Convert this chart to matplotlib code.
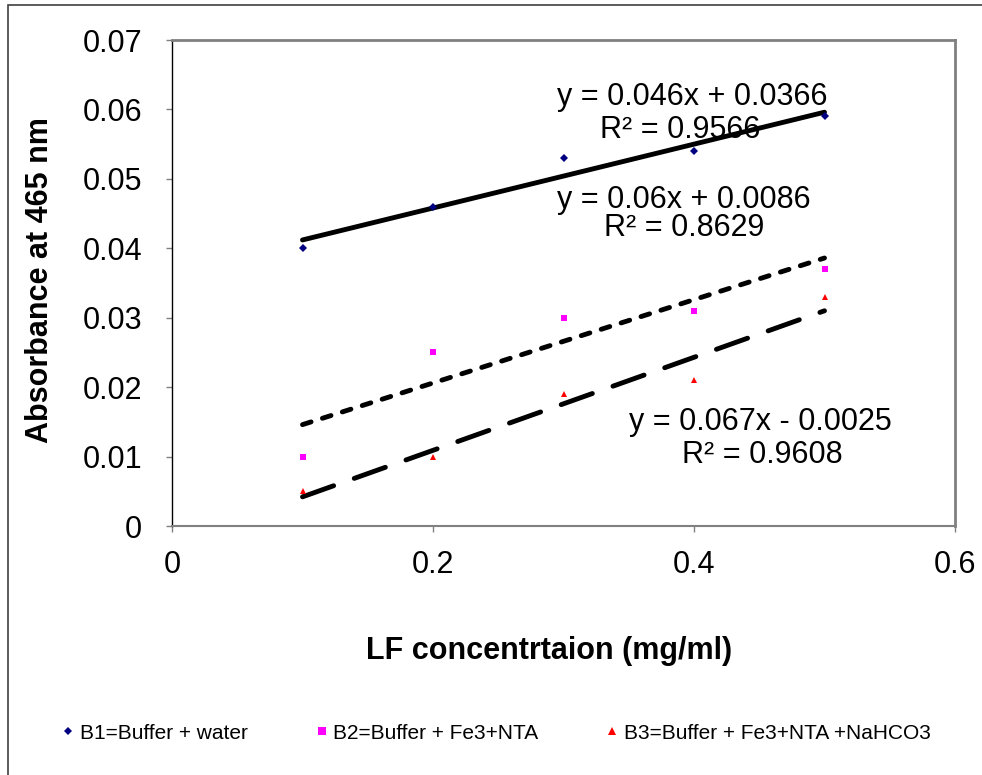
import matplotlib
matplotlib.use('Agg')
import matplotlib.pyplot as plt
import numpy as np
from matplotlib.patches import Rectangle

plt.rcParams['font.family'] = ['Liberation Sans', 'DejaVu Sans']

# data
conc = [0.1, 0.2, 0.3, 0.4, 0.5]
b1 = [0.040, 0.046, 0.053, 0.054, 0.059]
b2 = [0.010, 0.025, 0.030, 0.031, 0.037]
b3 = [0.005, 0.010, 0.019, 0.021, 0.033]
names = ['B1=Buffer + water', 'B2=Buffer + Fe3+NTA', 'B3=Buffer + Fe3+NTA +NaHCO3']
xticks = [0, 0.2, 0.4, 0.6]
xtick_labels = ['0', '0.2', '0.4', '0.6']
yticks = [0, 0.01, 0.02, 0.03, 0.04, 0.05, 0.06, 0.07]
ytick_labels = ['0', '0.01', '0.02', '0.03', '0.04', '0.05', '0.06', '0.07']
eq_lines = [
    ('y = 0.046x + 0.0366', 'R² = 0.9566'),
    ('y = 0.06x + 0.0086', 'R² = 0.8629'),
    ('y = 0.067x - 0.0025', 'R² = 0.9608'),
]

fig = plt.figure(figsize=(9.82, 7.75), dpi=100)
ax = fig.add_axes([172 / 982, 1 - 526 / 775, 783 / 982, 486 / 775])

# outer chart border
fig.patches.append(Rectangle((8 / 982, -0.05), 1.1, 1 - 5 / 775 + 0.05,
                             transform=fig.transFigure, fill=False,
                             edgecolor='#404040', linewidth=1.2))

markers = [('D', '#000080', 4), ('s', '#FF00FF', 5), ('^', '#FF0000', 5)]
dashes = [None, (1.85, 2.45), (6.8, 4.5)]
series = [b1, b2, b3]

x = np.array(conc)
for vals, (m, c, ms), name, d in zip(series, markers, names, dashes):
    ax.plot(conc, vals, linestyle='none', marker=m, color=c, markersize=ms,
            markeredgewidth=0, label=name, zorder=3)
    k, b = np.polyfit(x, vals, 1)
    line, = ax.plot(x, k * x + b, color='black', linewidth=3.5,
                    solid_capstyle='round', dash_capstyle='round', zorder=2)
    if d is not None:
        line.set_dashes(d)

# trendline equations (first and third have offset lines, second is a tight block)
ax.text(0.664, 0.883, eq_lines[0][0], transform=ax.transAxes, fontsize=22,
        ha='center', va='center', zorder=1)
ax.text(0.649, 0.815, eq_lines[0][1], transform=ax.transAxes, fontsize=22,
        ha='center', va='center', zorder=1)
ax.text(0.654, 0.642, '\n'.join(eq_lines[1]), transform=ax.transAxes,
        fontsize=22, ha='center', va='center', multialignment='center',
        linespacing=0.9, zorder=1)
ax.text(0.752, 0.214, eq_lines[2][0], transform=ax.transAxes, fontsize=22,
        ha='center', va='center', zorder=1)
ax.text(0.754, 0.146, eq_lines[2][1], transform=ax.transAxes, fontsize=22,
        ha='center', va='center', zorder=1)

ax.set_xlim(0, 0.6)
ax.set_ylim(0, 0.07)
ax.set_xticks(xticks)
ax.set_xticklabels(xtick_labels)
ax.set_yticks(yticks)
ax.set_yticklabels(ytick_labels)
ax.tick_params(direction='out', length=4.5, width=1, color='#808080',
               labelsize=22)
ax.tick_params(axis='y', pad=17)
ax.tick_params(axis='x', pad=13)

ax.spines['left'].set_color('black')
ax.spines['left'].set_linewidth(1)
ax.spines['bottom'].set_color('#808080')
ax.spines['bottom'].set_linewidth(1.5)
for s in ['top', 'right']:
    ax.spines[s].set_color('#808080')
    ax.spines[s].set_linewidth(2)

ax.set_xlabel('LF concentrtaion (mg/ml)', fontsize=22, fontweight='bold')
ax.set_ylabel('Absorbance at 465 nm', fontsize=22, fontweight='bold')
ax.xaxis.set_label_coords(0.4815, -0.226)
ax.yaxis.set_label_coords(-0.149, 0.506)

fig.legend(loc='center', bbox_to_anchor=(0.506, 0.054), ncol=3, frameon=False,
           fontsize=15, handlelength=0.5, handletextpad=0.3,
           columnspacing=3.3, markerscale=1.1)

fig.savefig('out.png', dpi=100, facecolor='white')
